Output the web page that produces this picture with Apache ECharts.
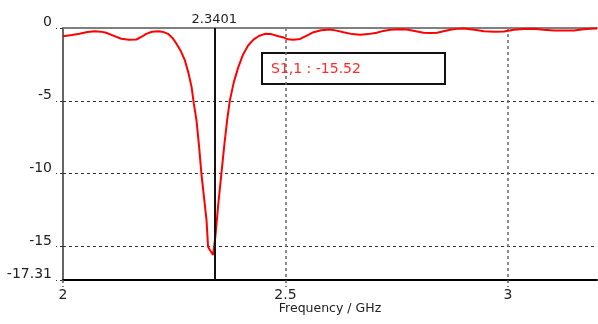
<!DOCTYPE html>
<html>
<head>
<meta charset="utf-8">
<script src="https://cdn.jsdelivr.net/npm/echarts@6/dist/echarts.min.js"></script>
<style>
html,body{margin:0;padding:0;background:#fff;}
#c{width:598px;height:324px;}
</style>
</head>
<body>
<div id="c"></div>
<script>
// Frequency (GHz) samples
const freq = [2.000,2.020,2.037,2.055,2.071,2.085,2.097,2.113,2.131,2.148,2.165,2.177,2.187,2.200,2.214,2.226,2.236,2.246,2.255,2.265,2.274,2.282,2.289,2.294,2.300,2.306,2.311,2.3225,2.326,2.330,2.3374,2.3401,2.3425,2.3486,2.356,2.363,2.369,2.375,2.384,2.394,2.405,2.416,2.428,2.440,2.454,2.468,2.482,2.494,2.505,2.517,2.533,2.548,2.563,2.580,2.600,2.615,2.630,2.650,2.668,2.686,2.705,2.720,2.735,2.755,2.773,2.790,2.810,2.825,2.841,2.855,2.870,2.885,2.900,2.925,2.946,2.970,2.991,3.013,3.035,3.058,3.080,3.103,3.125,3.148,3.170,3.186,3.200];
// S1,1 (dB)
const s11 = [-0.56,-0.48,-0.40,-0.28,-0.22,-0.25,-0.33,-0.52,-0.74,-0.80,-0.79,-0.60,-0.40,-0.26,-0.22,-0.28,-0.40,-0.68,-1.08,-1.60,-2.23,-3.10,-4.06,-5.20,-6.34,-8.20,-10.0,-13.19,-15.02,-15.25,-15.59,-15.52,-14.3,-12.2,-9.98,-7.9,-6.3,-4.97,-3.7,-2.69,-1.8,-1.2,-0.8,-0.55,-0.40,-0.42,-0.55,-0.63,-0.78,-0.81,-0.75,-0.52,-0.29,-0.15,-0.10,-0.18,-0.29,-0.42,-0.47,-0.42,-0.33,-0.20,-0.12,-0.09,-0.10,-0.20,-0.33,-0.35,-0.33,-0.22,-0.12,-0.06,-0.03,-0.12,-0.22,-0.25,-0.24,-0.12,-0.07,-0.05,-0.12,-0.17,-0.18,-0.17,-0.09,-0.05,-0.03];
const markerFreq = 2.3401;
const markerLabel = '2.3401';
const markerValue = '-15.52';
const seriesName = 'S1,1';
const xTicks = [2, 2.5, 3];
const xMin = 2, xMax = 3.2, xStep = 0.5;
const yMin = -17.31, yMax = 0;
const xName = 'Frequency / GHz';

const FONT = 'DejaVu Sans';
const chart = echarts.init(document.getElementById('c'), null, {renderer:'canvas'});
chart.setOption({
  animation: false,
  backgroundColor: '#fff',
  grid: {left: 63, right: 1, top: 28, bottom: 44, containLabel: false, outerBoundsMode: 'none'},
  xAxis: [{
    type: 'value', min: xMin, max: xMax, interval: xStep,
    position: 'bottom',
    name: xName, nameLocation: 'middle', nameGap: 22, nameMoveOverlap: false,
    nameTextStyle: {fontFamily: FONT, fontSize: 12.5, color: '#222', verticalAlign: 'top'},
    axisLine: {onZero: false, lineStyle: {color: '#000', width: 2}},
    axisTick: {show: true, length: 7, customValues: xTicks, lineStyle: {color: '#555', type: [3,3], width: 1.5}},
    axisLabel: {margin: 8, fontFamily: FONT, fontSize: 14, color: '#222', customValues: xTicks,
      formatter: v => String(+(+v).toFixed(2))},
    splitLine: {show: true, showMinLine: false, showMaxLine: true, lineStyle: {color: '#666', type: [3,3], width: 1.5}}
  }, {
    type: 'value', min: xMin, max: xMax, position: 'top',
    axisLine: {show: true, onZero: false, lineStyle: {color: '#808080', width: 2}},
    axisTick: {show: false}, axisLabel: {show: false}, splitLine: {show: false}
  }],
  yAxis: {
    type: 'value', min: yMin, max: yMax, splitNumber: 3,
    axisLine: {show: true, onZero: false, lineStyle: {color: '#333', width: 1.5}},
    axisTick: {show: true, length: 7, lineStyle: {color: '#333', type: [3,3], width: 1}},
    axisLabel: {margin: 11, fontFamily: FONT, fontSize: 14, color: '#222', verticalAlign: 'bottom', lineHeight: 11},
    splitLine: {show: true, showMinLine: false, showMaxLine: false, lineStyle: {color: '#333', type: [3,3], width: 1}}
  },
  series: [{
    type: 'line', name: seriesName,
    data: freq.map((f, i) => [f, s11[i]]),
    showSymbol: false, smooth: false,
    lineStyle: {color: '#ff0000', width: 2},
    z: 3,
    markLine: {
      silent: true, symbol: ['none','none'], animation: false,
      lineStyle: {color: '#111', width: 2, type: 'solid'},
      label: {show: true, position: 'end', formatter: markerLabel, fontFamily: FONT, fontSize: 13, color: '#222', distance: 2},
      data: [{xAxis: markerFreq}]
    }
  }],
  graphic: [{
    type: 'group', left: 261, top: 52, z: 10,
    children: [{
      type: 'rect', shape: {x: 0, y: 0, width: 183, height: 31},
      style: {fill: '#fff', stroke: '#111', lineWidth: 2}
    }, {
      type: 'text', x: 9, y: 16,
      style: {text: seriesName + ' : ' + markerValue, fill: '#ff2a2a', font: '14px "DejaVu Sans"', verticalAlign: 'middle', align: 'left'}
    }]
  }]
});
</script>
</body>
</html>
